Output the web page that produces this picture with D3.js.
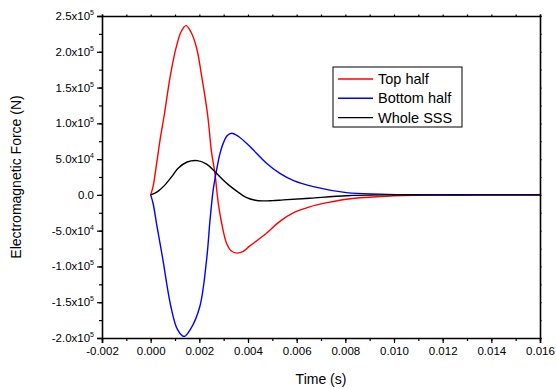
<!DOCTYPE html>
<html>
<head>
<meta charset="utf-8">
<script src="https://cdn.jsdelivr.net/npm/d3@7"></script>
<style>
  body { margin: 0; background: #fff; }
  svg { font-family: "Liberation Sans", Arial, sans-serif; }
  .axis path, .axis line { stroke: #000; }
  .axis text { font-size: 11.5px; fill: #000; }
</style>
</head>
<body>
<div id="chart"></div>
<script>
// time in ms, force in units of 1e5 N
const topHalf = [
  [0, 0], [0.1, 0.12], [0.25, 0.45], [0.4, 0.8], [0.56, 1.12], [0.8, 1.65], [1.04, 2.05], [1.25, 2.28],
  [1.45, 2.365], [1.65, 2.28], [1.89, 2.05], [2.1, 1.65], [2.34, 1.12], [2.5, 0.6],
  [2.64, 0.3], [2.78, -0.12], [2.92, -0.4], [3.12, -0.68], [3.3, -0.78], [3.56, -0.814],
  [3.8, -0.79], [4.05, -0.72], [4.4, -0.63], [4.76, -0.535], [5.31, -0.37], [5.9, -0.245], [6.5, -0.17],
  [7.3, -0.105], [8.05, -0.06], [9.42, -0.023], [10.8, -0.006], [12, 0], [14, 0], [16, 0]
];
const bottomHalf = [
  [0, 0], [0.1, -0.12], [0.25, -0.42], [0.48, -0.86], [0.83, -1.56], [1.1, -1.88], [1.37, -1.98],
  [1.65, -1.87], [2.02, -1.56], [2.3, -0.9], [2.44, -0.35], [2.57, 0.07], [2.71, 0.35],
  [2.85, 0.58], [2.98, 0.72], [3.15, 0.83], [3.33, 0.862], [3.6, 0.82], [4.08, 0.675],
  [4.76, 0.443], [5.31, 0.3], [5.9, 0.195], [6.68, 0.116], [8.05, 0.032], [9.42, 0.01],
  [11, 0], [13.5, 0], [16, 0]
];
const wholeSSS = [
  [0, 0], [0.3, 0.05], [0.59, 0.14], [0.9, 0.27], [1.13, 0.373], [1.5, 0.46], [1.92, 0.479],
  [2.3, 0.43], [2.64, 0.325], [3.0, 0.2], [3.2, 0.14], [3.55, 0.05], [3.9, -0.03], [4.3, -0.075],
  [4.62, -0.084], [5.0, -0.08], [5.45, -0.07], [6.54, -0.046], [8.05, -0.012], [9.5, 0], [12.5, 0], [16, 0]
];
const seriesNames = ["Top half", "Bottom half", "Whole SSS"];
const seriesColors = ["#ff0000", "#0000ff", "#000000"];
const xTicks = [-0.002, 0, 0.002, 0.004, 0.006, 0.008, 0.010, 0.012, 0.014, 0.016];
const yTickLabels = [
  ["2.5x10", "5"], ["2.0x10", "5"], ["1.5x10", "5"], ["1.0x10", "5"], ["5.0x10", "4"], ["0.0", ""],
  ["-5.0x10", "4"], ["-1.0x10", "5"], ["-1.5x10", "5"], ["-2.0x10", "5"]
];
const yTicks = [2.5e5, 2.0e5, 1.5e5, 1.0e5, 5.0e4, 0, -5.0e4, -1.0e5, -1.5e5, -2.0e5];

const W = 556, H = 389;
const margin = {top: 16, right: 16, bottom: 51, left: 102};
const width = W - margin.left - margin.right;
const height = H - margin.top - margin.bottom;

const svg = d3.select("#chart").append("svg")
  .attr("width", W)
  .attr("height", H);

const g = svg.append("g")
  .attr("transform", `translate(${margin.left},${margin.top})`);

const x = d3.scaleLinear().domain([-0.002, 0.016]).range([0, width]);
const y = d3.scaleLinear().domain([-2.0e5, 2.5e5]).range([height, 0]);

// minor ticks
const xMinor = d3.range(-0.002, 0.0165, 0.001);
const yMinor = d3.range(-2.0e5, 2.51e5, 2.5e4);

// bottom axis
g.append("g").attr("class", "axis")
  .attr("transform", `translate(0,${height})`)
  .call(d3.axisBottom(x).tickValues(xTicks).tickSize(5).tickPadding(4)
    .tickFormat(d => d3.format(".3f")(d).replace("−", "-")));
g.append("g").attr("class", "axis")
  .attr("transform", `translate(0,${height})`)
  .call(d3.axisBottom(x).tickValues(xMinor).tickSize(3).tickFormat(""))
  .select(".domain").remove();

// left axis
g.append("g").attr("class", "axis")
  .call(d3.axisLeft(y).tickValues(yTicks).tickSize(5).tickFormat(""));
g.append("g").attr("class", "axis")
  .call(d3.axisLeft(y).tickValues(yMinor).tickSize(3).tickFormat(""))
  .select(".domain").remove();

yTicks.forEach((v, i) => {
  const t = g.append("text")
    .attr("x", -8)
    .attr("y", y(v) + 4)
    .attr("text-anchor", "end")
    .style("font-size", "11.5px");
  t.append("tspan").text(yTickLabels[i][0]);
  if (yTickLabels[i][1]) {
    t.append("tspan").attr("dy", -5).style("font-size", "7px").text(yTickLabels[i][1]);
  }
});

// top and right axes
g.append("g").attr("class", "axis")
  .call(d3.axisTop(x).tickValues(xMinor).tickSize(1.5).tickFormat(""))
  .selectAll(".tick line").attr("stroke", "#888");
g.append("g").attr("class", "axis")
  .attr("transform", `translate(${width},0)`)
  .call(d3.axisRight(y).tickValues(yMinor).tickSize(1.5).tickFormat(""))
  .selectAll(".tick line").attr("stroke", "#888");

g.selectAll(".axis .domain").attr("stroke-width", 1.6);
g.selectAll(".axis .tick line").attr("stroke-width", 1.2);

// lines
const line = d3.line()
  .x(d => x(d[0] / 1000))
  .y(d => y(d[1] * 1e5))
  .curve(d3.curveCatmullRom.alpha(0.5));

[topHalf, bottomHalf, wholeSSS].forEach((data, i) => {
  g.append("path")
    .datum(data)
    .attr("fill", "none")
    .attr("stroke", seriesColors[i])
    .attr("stroke-width", 1.4)
    .attr("d", line);
});

// axis titles
svg.append("text")
  .attr("x", margin.left + width / 2)
  .attr("y", 384)
  .attr("text-anchor", "middle")
  .style("font-size", "14px")
  .text("Time (s)");
svg.append("text")
  .attr("transform", `translate(21,${margin.top + height / 2}) rotate(-90)`)
  .attr("text-anchor", "middle")
  .style("font-size", "14px")
  .text("Electromagnetic Force (N)");

// legend
const legend = svg.append("g").attr("transform", "translate(333,67)");
legend.append("rect")
  .attr("width", 129).attr("height", 60)
  .attr("fill", "#fff").attr("stroke", "#000").attr("stroke-width", 1);
seriesNames.forEach((name, i) => {
  const ly = 12 + i * 19.3;
  legend.append("line")
    .attr("x1", 5).attr("x2", 40)
    .attr("y1", ly).attr("y2", ly)
    .attr("stroke", seriesColors[i]).attr("stroke-width", 1.4);
  legend.append("text")
    .attr("x", 45).attr("y", ly + 5)
    .style("font-size", "14.5px")
    .text(name);
});
</script>
</body>
</html>
